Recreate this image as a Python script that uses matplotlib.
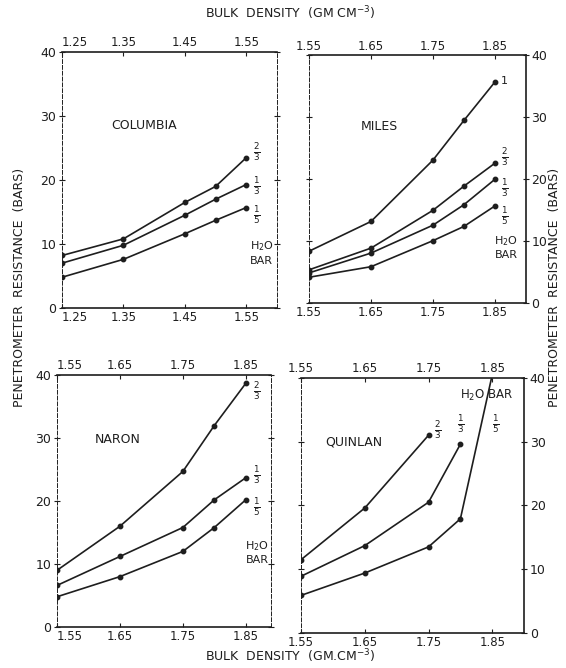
import matplotlib.pyplot as plt

# bulk density (g/cm3) and penetrometer resistance (bars) per soil
columbia_x = [1.25, 1.35, 1.45, 1.50, 1.55]
columbia_23 = [8.2, 10.8, 16.5, 19.0, 23.5]
columbia_13 = [7.0, 9.8, 14.5, 17.0, 19.3]
columbia_15 = [4.8, 7.6, 11.6, 13.7, 15.7]

miles_x = [1.55, 1.65, 1.75, 1.80, 1.85]
miles_1 = [8.4, 13.2, 23.1, 29.5, 35.7]
miles_23 = [5.4, 8.9, 15.0, 18.9, 22.6]
miles_13 = [4.9, 8.1, 12.6, 15.9, 20.0]
miles_15 = [4.2, 5.9, 10.1, 12.4, 15.7]

naron_x = [1.55, 1.65, 1.75, 1.80, 1.85]
naron_23 = [9.0, 16.0, 24.7, 32.0, 38.7]
naron_13 = [6.6, 11.2, 15.8, 20.2, 23.7]
naron_15 = [4.8, 8.0, 12.0, 15.8, 20.2]

quinlan_23_x = [1.55, 1.65, 1.75]
quinlan_23 = [11.5, 19.6, 31.0]
quinlan_13_x = [1.55, 1.65, 1.75, 1.80]
quinlan_13 = [8.9, 13.7, 20.5, 29.6]
quinlan_15_x = [1.55, 1.65, 1.75, 1.80, 1.85]
quinlan_15 = [5.9, 9.4, 13.5, 17.9, 40.5]

ink = '#1e1e1e'
plt.rcParams['font.family'] = 'DejaVu Sans'

fig = plt.figure(figsize=(5.66, 6.68), dpi=100)
ax1 = fig.add_axes([0.1095, 0.539, 0.380, 0.383])
ax2 = fig.add_axes([0.546, 0.546, 0.383, 0.371])
ax3 = fig.add_axes([0.1007, 0.0614, 0.378, 0.377])
ax4 = fig.add_axes([0.532, 0.0524, 0.394, 0.382])


def setup(ax, xlim, xticks, right_y, dashed):
    ax.set_xlim(*xlim)
    ax.set_ylim(0, 40)
    ax.set_xticks(xticks)
    ax.set_xticklabels([f'{t:.2f}' for t in xticks])
    ax.set_yticks([0, 10, 20, 30, 40])
    ax.tick_params(axis='x', top=True, labeltop=True, bottom=True, labelbottom=True,
                   direction='in', length=3, labelsize=8.5, pad=2, colors=ink)
    ax.tick_params(axis='y', left=True, right=True, direction='inout', length=5,
                   labelsize=9, pad=1.5, colors=ink,
                   labelleft=not right_y, labelright=right_y)
    for side, sp in ax.spines.items():
        sp.set_color(ink)
        sp.set_linewidth(1.2)
        if side in dashed:
            sp.set_linestyle((0, (4, 2)))
            sp.set_linewidth(0.7)
    if not right_y:
        # first density label sits just inside the corner
        ax.xaxis.get_majorticklabels()[0].set_ha('left')
        for t in ax.xaxis.get_major_ticks()[:1]:
            t.label2.set_ha('left')


def curve(ax, x, y, markevery=None):
    ax.plot(x, y, color=ink, lw=1.2, marker='o', ms=3.2, markevery=markevery,
            clip_on=True)


def frac(ax, x, y, num, den):
    ax.text(x, y, rf'$\frac{{{num}}}{{{den}}}$', fontsize=9, ha='center',
            va='center', color=ink)


# Columbia
setup(ax1, (1.25, 1.60), [1.25, 1.35, 1.45, 1.55], False, ('left', 'right'))
curve(ax1, columbia_x, columbia_23)
curve(ax1, columbia_x, columbia_13)
curve(ax1, columbia_x, columbia_15)
ax1.text(1.384, 28.5, 'COLUMBIA', fontsize=9, ha='center', va='center', color=ink)
frac(ax1, 1.567, 24.3, 2, 3)
frac(ax1, 1.567, 19.0, 1, 3)
frac(ax1, 1.567, 14.5, 1, 5)
ax1.text(1.575, 9.6, 'H$_2$O', fontsize=8, ha='center', va='center', color=ink)
ax1.text(1.575, 7.4, 'BAR', fontsize=8, ha='center', va='center', color=ink)

# Miles
setup(ax2, (1.55, 1.90), [1.55, 1.65, 1.75, 1.85], True, ('left',))
curve(ax2, miles_x, miles_1)
curve(ax2, miles_x, miles_23)
curve(ax2, miles_x, miles_13)
curve(ax2, miles_x, miles_15)
ax2.text(1.664, 28.6, 'MILES', fontsize=9, ha='center', va='center', color=ink)
ax2.text(1.865, 35.8, '1', fontsize=8, ha='center', va='center', color=ink)
frac(ax2, 1.866, 23.6, 2, 3)
frac(ax2, 1.866, 18.6, 1, 3)
frac(ax2, 1.866, 14.0, 1, 5)
ax2.text(1.868, 10.0, 'H$_2$O', fontsize=8, ha='center', va='center', color=ink)
ax2.text(1.868, 7.8, 'BAR', fontsize=8, ha='center', va='center', color=ink)

# Naron
setup(ax3, (1.55, 1.89), [1.55, 1.65, 1.75, 1.85], False, ('left', 'right'))
curve(ax3, naron_x, naron_23)
curve(ax3, naron_x, naron_13)
curve(ax3, naron_x, naron_15)
ax3.text(1.646, 29.7, 'NARON', fontsize=9, ha='center', va='center', color=ink)
frac(ax3, 1.868, 37.5, 2, 3)
frac(ax3, 1.868, 24.2, 1, 3)
frac(ax3, 1.868, 19.0, 1, 5)
ax3.text(1.868, 12.8, 'H$_2$O', fontsize=8, ha='center', va='center', color=ink)
ax3.text(1.868, 10.6, 'BAR', fontsize=8, ha='center', va='center', color=ink)

# Quinlan
setup(ax4, (1.55, 1.90), [1.55, 1.65, 1.75, 1.85], True, ('left',))
curve(ax4, quinlan_23_x, quinlan_23)
curve(ax4, quinlan_13_x, quinlan_13)
curve(ax4, quinlan_15_x, quinlan_15, markevery=[0, 1, 2, 3])
ax4.text(1.633, 30.0, 'QUINLAN', fontsize=9, ha='center', va='center', color=ink)
frac(ax4, 1.765, 31.8, 2, 3)
frac(ax4, 1.800, 32.8, 1, 3)
frac(ax4, 1.855, 32.8, 1, 5)
ax4.text(1.842, 37.3, 'H$_2$O BAR', fontsize=8.5, ha='center', va='center', color=ink)

# shared axis titles
fig.text(0.513, 0.980, 'BULK  DENSITY  (GM CM$^{-3}$)', fontsize=9, ha='center',
         va='center', color=ink)
fig.text(0.513, 0.017, 'BULK  DENSITY  (GM.CM$^{-3}$)', fontsize=9, ha='center',
         va='center', color=ink)
fig.text(0.035, 0.57, 'PENETROMETER  RESISTANCE  (BARS)', fontsize=9,
         rotation=90, ha='center', va='center', color=ink)
fig.text(0.979, 0.57, 'PENETROMETER  RESISTANCE  (BARS)', fontsize=9,
         rotation=90, ha='center', va='center', color=ink)

fig.savefig('out.png', dpi=100)
